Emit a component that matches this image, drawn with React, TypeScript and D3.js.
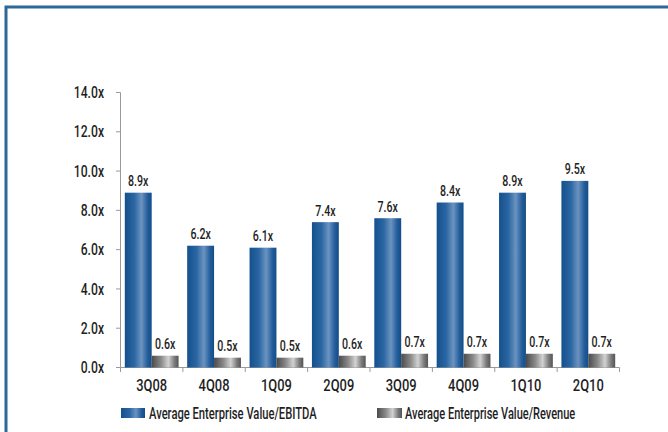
import React from "react";
import * as d3 from "d3";

const categories = ["3Q08", "4Q08", "1Q09", "2Q09", "3Q09", "4Q09", "1Q10", "2Q10"];
const ebitda = [8.9, 6.2, 6.1, 7.4, 7.6, 8.4, 8.9, 9.5];
const revenue = [0.6, 0.5, 0.5, 0.6, 0.7, 0.7, 0.7, 0.7];
const seriesNames = ["Average Enterprise Value/EBITDA", "Average Enterprise Value/Revenue"];
const yTicks = [0, 2, 4, 6, 8, 10, 12, 14];

const W = 668;
const H = 432;
const FONT = "Roboto, 'DejaVu Sans', sans-serif";
const SX = 0.76;

function Label(props: { x: number; y: number; size: number; anchor?: string; sx?: number; children: React.ReactNode }) {
  const { x, y, size, anchor = "start", sx = SX, children } = props;
  return (
    <g transform={`translate(${x},${y}) scale(${sx},1)`}>
      <text x={0} y={0} dy="0.35em" textAnchor={anchor} fontSize={size} fontWeight={500} fill="#1e1e1e">
        {children}
      </text>
    </g>
  );
}

export default function App() {
  const x = d3.scaleBand<string>().domain(categories).range([120.5, 619.5]).paddingInner(0).paddingOuter(0);
  const sub = d3.scaleBand<string>().domain(["a", "b"]).range([0, x.bandwidth()]).paddingInner(0).paddingOuter(0.16);
  const y = d3.scaleLinear().domain([0, 14]).range([367.5, 92.5]);
  const fmt = (v: number) => v.toFixed(1) + "x";
  const boundaries = d3.range(categories.length + 1).map((i) => 120.5 + i * x.step());

  return (
    <svg width={W} height={H} style={{ position: "absolute", left: 0, top: 0, background: "#fff" }} fontFamily={FONT}>
      <defs>
        <linearGradient id="blueG" x1="0" x2="1" y1="0" y2="0">
          <stop offset="0" stopColor="#14508d" />
          <stop offset="0.35" stopColor="#2a66a2" />
          <stop offset="0.62" stopColor="#6b93c0" />
          <stop offset="0.85" stopColor="#235e9b" />
          <stop offset="1" stopColor="#134d88" />
        </linearGradient>
        <linearGradient id="greyG" x1="0" x2="1" y1="0" y2="0">
          <stop offset="0" stopColor="#4a4a4a" />
          <stop offset="0.35" stopColor="#8a8a8a" />
          <stop offset="0.62" stopColor="#d2d2d2" />
          <stop offset="0.85" stopColor="#7a7a7a" />
          <stop offset="1" stopColor="#555" />
        </linearGradient>
      </defs>
      <rect x={0} y={0} width={W} height={H} fill="#fff" />
      <rect x={6} y={7} width={W + 20} height={H + 20} fill="#fff" stroke="#2c6898" strokeWidth={3} />

      {/* y axis */}
      <line x1={120.5} x2={120.5} y1={y(14)} y2={y(0)} stroke="#9a9a9a" strokeWidth={1} />
      {yTicks.map((t) => (
        <g key={t}>
          <line x1={116} x2={120.5} y1={y(t)} y2={y(t)} stroke="#9a9a9a" />
          <Label x={104} y={y(t)} size={16} anchor="end">
            {fmt(t)}
          </Label>
        </g>
      ))}

      {/* x axis */}
      <line x1={120.5} x2={619.5} y1={y(0)} y2={y(0)} stroke="#9a9a9a" />
      {boundaries.map((b, i) => (
        <line key={i} x1={b} x2={b} y1={y(0)} y2={y(0) + 4.5} stroke="#9a9a9a" />
      ))}
      {categories.map((c) => (
        <Label key={c} x={(x(c) as number) + x.bandwidth() / 2} y={385.5} size={17} anchor="middle">
          {c}
        </Label>
      ))}

      {/* bars */}
      {categories.map((c, i) => {
        const x0 = x(c) as number;
        const xa = x0 + (sub("a") as number);
        const xb = x0 + (sub("b") as number);
        const bw = sub.bandwidth();
        return (
          <g key={c}>
            <rect x={xa} y={y(ebitda[i])} width={bw} height={y(0) - y(ebitda[i])} fill="url(#blueG)" />
            <rect x={xb} y={y(revenue[i])} width={bw} height={y(0) - y(revenue[i])} fill="url(#greyG)" />
            <Label x={xa + bw / 2} y={y(ebitda[i]) - 11.5} size={14} anchor="middle">
              {fmt(ebitda[i])}
            </Label>
            <Label x={xb + bw / 2} y={y(revenue[i]) - 12} size={14} anchor="middle">
              {fmt(revenue[i])}
            </Label>
          </g>
        );
      })}

      {/* legend */}
      <rect x={121} y={408} width={24} height={10} fill="url(#blueG)" />
      <Label x={149} y={413} size={16} sx={0.7}>{seriesNames[0]}</Label>
      <rect x={377} y={408} width={25} height={10} fill="url(#greyG)" />
      <Label x={405} y={413} size={16} sx={0.69}>{seriesNames[1]}</Label>
    </svg>
  );
}
